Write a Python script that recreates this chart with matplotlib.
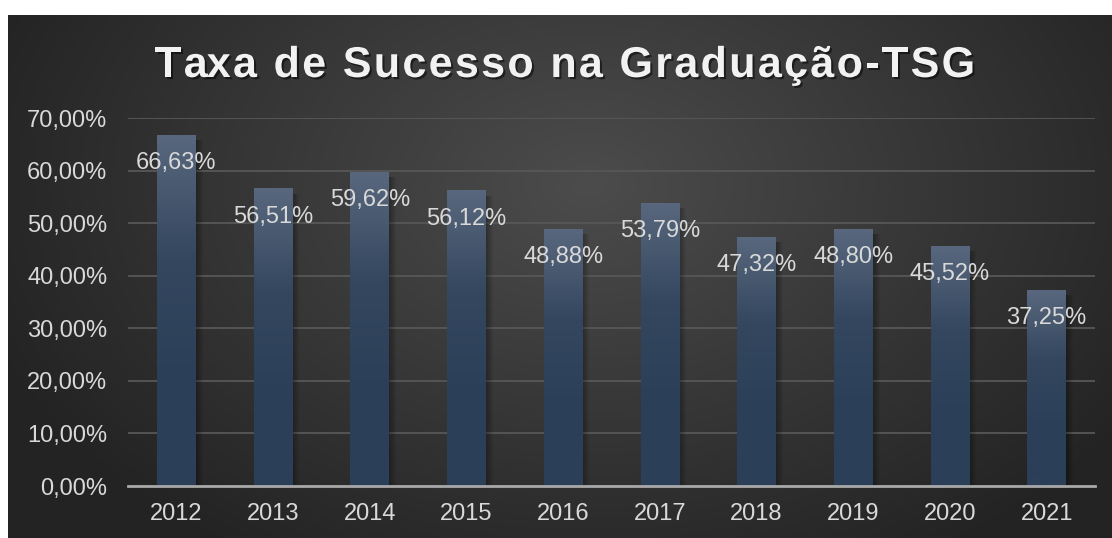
import numpy as np
import matplotlib
matplotlib.use("Agg")
import matplotlib.pyplot as plt
from matplotlib import patheffects as pe
from matplotlib.patches import Rectangle
from matplotlib.colors import LinearSegmentedColormap

# data
anos = ["2012", "2013", "2014", "2015", "2016", "2017", "2018", "2019", "2020", "2021"]
taxa = [66.63, 56.51, 59.62, 56.12, 48.88, 53.79, 47.32, 48.80, 45.52, 37.25]
yticks = [0, 10, 20, 30, 40, 50, 60, 70]
titulo = "Taxa de Sucesso na Graduação-TSG"

plt.rcParams["font.family"] = ["Liberation Sans", "DejaVu Sans"]

W, H = 1112, 538
fig = plt.figure(figsize=(W / 100, H / 100), dpi=100)
fig.patch.set_facecolor("white")

# dark panel with radial highlight
bg = fig.add_axes([8 / W, 0, (W - 8) / W, (H - 15) / H])
ph, pw = H - 15, W - 8
yy, xx = np.mgrid[0:ph, 0:pw]
r = np.sqrt(((xx - 580) / 650.0) ** 2 + ((yy - 170) / 440.0) ** 2)
t = np.clip(1 - r, 0, 1) ** 1.0
dark = np.array([0x23, 0x23, 0x23]) / 255
light = np.array([0x4c, 0x4c, 0x4c]) / 255
img = dark + (light - dark) * t[..., None]
bg.imshow(img, aspect="auto", extent=[0, 1, 0, 1], origin="upper")
bg.axis("off")

# main axes
ax = fig.add_axes([128 / W, 52 / H, (1095 - 128) / W, 368 / H])
ax.patch.set_alpha(0)
x = np.arange(len(anos))
bw = 0.4
px = 10.0 / 967  # one pixel in x data units

cmap = LinearSegmentedColormap.from_list("barra", ["#58677d", "#34475f", "#2b3f58"])
grad = np.linspace(0, 1, 200).reshape(-1, 1)
grad = np.clip(grad / 0.7, 0, 1)

fs = 17
for xi, v in zip(x, taxa):
    # soft shadow to the right
    for k in range(1, 8):
        ax.add_patch(Rectangle((xi + bw / 2, -0.3), k * px, v - 0.6,
                               color="black", alpha=0.045, lw=0, zorder=2))
    ax.imshow(grad, cmap=cmap, extent=[xi - bw / 2, xi + bw / 2, 0, v],
              aspect="auto", origin="upper", zorder=3)
    ax.annotate(f"{v:.2f}%".replace(".", ","), (xi, v), xytext=(0, -20),
                textcoords="offset points", ha="center", va="center",
                fontsize=fs, color="#d9d9d9", zorder=5)

ax.set_xlim(-0.5, len(anos) - 0.5)
ax.set_ylim(0, 70)
ax.set_xticks(x)
ax.set_xticklabels(anos)
ax.set_yticks(yticks)
ax.set_yticklabels([f"{v:.2f}%".replace(".", ",") for v in yticks])
ax.tick_params(length=0, labelsize=fs, labelcolor="#d9d9d9")
ax.tick_params(axis="x", pad=12)
ax.tick_params(axis="y", pad=15)
ax.yaxis.grid(True, color="#575757", lw=1.3)
ax.set_axisbelow(True)
for s in ["top", "right", "left"]:
    ax.spines[s].set_visible(False)
ax.spines["bottom"].set_color("#a8a8a8")
ax.spines["bottom"].set_linewidth(2)
ax.spines["bottom"].set_zorder(4)

# title with letter spacing
renderer = fig.canvas.get_renderer()
fs_t = 31


def largura(s):
    tt = fig.text(0, 0, s + "|", fontsize=fs_t, weight="bold")
    w = tt.get_window_extent(renderer).width
    tt.remove()
    return w


wbar = largura("")
natural = largura(titulo) - wbar
sp = (820 - natural) / (len(titulo) - 1)
x0, base = 155, H - 77
for i, ch in enumerate(titulo):
    xc = x0 + largura(titulo[:i]) - wbar + i * sp
    fig.text(xc / W, base / H, ch, fontsize=fs_t, weight="bold", color="#f2f2f2",
             va="baseline", ha="left",
             path_effects=[pe.withSimplePatchShadow(offset=(1.5, -1.5), shadow_rgbFace="black", alpha=0.5)])

fig.savefig("out.png", dpi=100, facecolor=fig.get_facecolor())
